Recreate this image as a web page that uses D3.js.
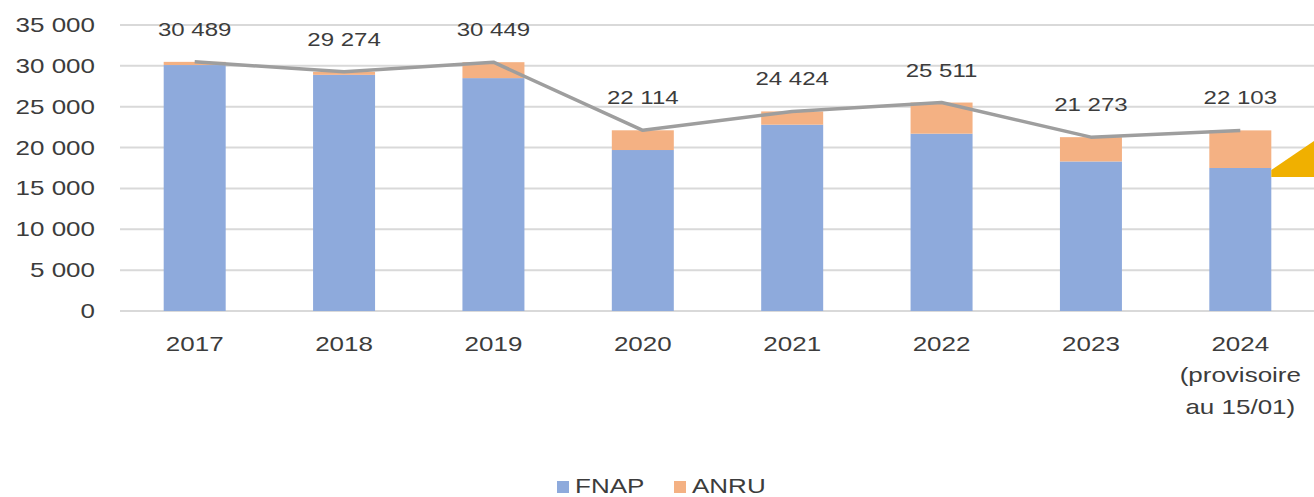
<!DOCTYPE html>
<html><head><meta charset="utf-8">
<script src="https://cdn.jsdelivr.net/npm/d3@7"></script>
<style>
html,body{margin:0;padding:0;background:#fff;}
svg{display:block;font-family:"Liberation Sans",Arial,sans-serif;}
</style></head>
<body><svg id="c" width="1314" height="497"></svg>
<script>
const categories = ["2017","2018","2019","2020","2021","2022","2023","2024"];
const categoryLines = [["2017"],["2018"],["2019"],["2020"],["2021"],["2022"],["2023"],["2024","(provisoire","au 15/01)"]];
const fnap = [30100, 28900, 28500, 19700, 22800, 21700, 18300, 17500];
const anru = [389, 374, 1949, 2414, 1624, 3811, 2973, 4603];
const totals = [30489, 29274, 30449, 22114, 24424, 25511, 21273, 22103];
const yTicks = [0,5000,10000,15000,20000,25000,30000,35000];
const seriesNames = ["FNAP","ANRU"];
const colors = {FNAP:"#8eaadc", ANRU:"#f4b183", line:"#9e9e9e", text:"#3c3c3c", grid:"#d9d9d9", accent:"#f0b000"};

const W = 1314, H = 497, SX = 1.3;
const svg = d3.select("#c");
const loc = d3.formatLocale({decimal:",", thousands:" ", grouping:[3], currency:["","€"]});
const fmt = loc.format(",d");

const x = d3.scaleBand().domain(categories).range([120, 1315]).paddingInner(0.585).paddingOuter(0.2925);
const y = d3.scaleLinear().domain([0,35000]).range([311, 25]);
const bw = x.bandwidth();

// gridlines
svg.append("g").selectAll("line").data(yTicks).join("line")
  .attr("x1",120).attr("x2",W).attr("y1",d=>y(d)).attr("y2",d=>y(d))
  .attr("stroke",colors.grid).attr("stroke-width",2);

// y axis labels
svg.append("g").selectAll("text").data(yTicks).join("text")
  .attr("transform",d=>`translate(95,${y(d)+7}) scale(${SX},1)`)
  .attr("text-anchor","end").attr("font-size",20).attr("fill",colors.text)
  .text(d=>fmt(d));

// stacked bars
const rows = categories.map((c,i)=>({cat:c, FNAP:fnap[i], ANRU:anru[i]}));
const stack = d3.stack().keys(seriesNames)(rows);
svg.append("g").selectAll("g").data(stack).join("g")
  .attr("fill",d=>colors[d.key])
  .selectAll("rect").data(d=>d).join("rect")
  .attr("x",d=>x(d.data.cat)).attr("width",bw)
  .attr("y",d=>y(d[1])).attr("height",d=>y(d[0])-y(d[1]));

// decorative accent wedge at right edge
const wx0 = x("2024")+bw;
svg.append("path")
  .attr("d",`M${wx0},${y(fnap[7])+2}L${W},${y(fnap[7]+3300)}L${W},${y(fnap[7])+9}L${wx0},${y(fnap[7])+9}Z`)
  .attr("fill",colors.accent);

// total line
const line = d3.line().x((d,i)=>x(categories[i])+bw/2).y(d=>y(d));
svg.append("path").datum(totals).attr("d",line)
  .attr("fill","none").attr("stroke",colors.line).attr("stroke-width",3.5).attr("stroke-linejoin","round");

// data labels
svg.append("g").selectAll("text").data(totals).join("text")
  .attr("transform",(d,i)=>`translate(${x(categories[i])+bw/2},${y(d)-26}) scale(${SX},1)`)
  .attr("text-anchor","middle").attr("font-size",18.5).attr("fill",colors.text)
  .text(d=>fmt(d));

// x axis labels
const xl = svg.append("g").selectAll("text").data(categoryLines).join("text")
  .attr("transform",(d,i)=>`translate(${x(categories[i])+bw/2},351) scale(${SX},1)`)
  .attr("text-anchor","middle").attr("font-size",20).attr("fill",colors.text);
xl.selectAll("tspan").data(d=>d).join("tspan")
  .attr("x",0).attr("dy",(d,i)=>i===0?0:31.5).text(d=>d);

// legend
const leg = svg.append("g");
const legX = [557, 674];
seriesNames.forEach((s,i)=>{
  leg.append("rect").attr("x",legX[i]).attr("y",481).attr("width",12).attr("height",12).attr("fill",colors[s]);
  leg.append("text").attr("transform",`translate(${legX[i]+18},493) scale(${SX},1)`)
    .attr("font-size",20).attr("fill",colors.text).text(s);
});
</script></body></html>
